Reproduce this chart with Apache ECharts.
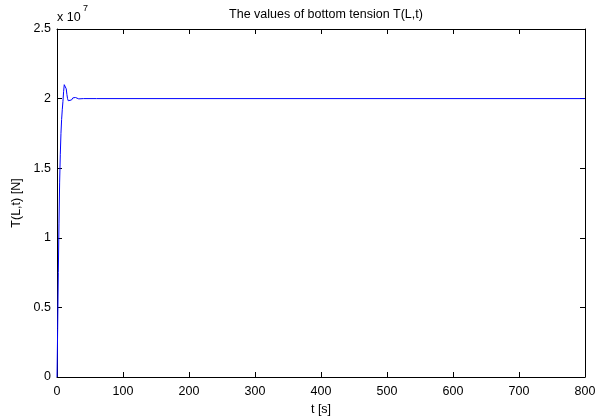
<!DOCTYPE html>
<html><head><meta charset="utf-8">
<script src="https://cdn.jsdelivr.net/npm/echarts@6/dist/echarts.min.js"></script>
<style>html,body{margin:0;padding:0;background:#fff}#c{width:606px;height:417px}</style>
</head><body><div id="c"></div>
<script>
// time [s]
var tValues = [0,1,2,3,4,5,6,7,8,9,10,11,12,13,14,15,16,17,18,19,20,22,24,26,28,30,33,36,40,60,100,200,400,600,800];
// bottom tension T(L,t) in units of 1e7 N
var tensionValues = [0,0.35,0.75,1.1,1.4,1.6,1.75,1.85,1.92,1.98,2.05,2.1,2.11,2.1,2.07,2.03,2.0,1.985,1.98,1.978,1.98,1.99,2.005,2.01,2.008,2.002,1.998,2.0,2.0,2.0,2.0,2.0,2.0,2.0,2.0];
var xTicks = [0,100,200,300,400,500,600,700,800];
var yTicks = [0,0.5,1,1.5,2,2.5];

var data = tValues.map(function(t,i){return [t, tensionValues[i]];});
var font = 'Liberation Sans, Arial, Helvetica, sans-serif';
var chart = echarts.init(document.getElementById('c'), null, {renderer:'canvas'});
var axisBase = {
  axisLine:{show:true,onZero:false,lineStyle:{color:'#000',width:1}},
  axisTick:{show:true,inside:true,length:5,lineStyle:{color:'#000'}},
  splitLine:{show:false}
};
chart.setOption({
  animation:false,
  backgroundColor:'#fff',
  title:{text:'The values of bottom tension T(L,t)',left:321,top:3,textAlign:'center',
    textStyle:{fontFamily:font,fontSize:12.5,fontWeight:'normal',color:'#000'}},
  grid:{left:57,right:21,top:29,bottom:40,containLabel:false,outerBoundsMode:'none'},
  xAxis:[
    Object.assign({type:'value',min:xTicks[0],max:xTicks[xTicks.length-1],interval:100,position:'bottom',
      name:'t [s]',nameLocation:'middle',nameGap:19,
      nameTextStyle:{fontFamily:font,fontSize:12.5,color:'#000'},
      axisLabel:{fontFamily:font,fontSize:12.5,color:'#000',margin:8}},axisBase),
    Object.assign({type:'value',min:0,max:800,interval:100,position:'top',axisLabel:{show:false}},axisBase)
  ],
  yAxis:[
    Object.assign({type:'value',min:yTicks[0],max:yTicks[yTicks.length-1],interval:0.5,position:'left',
      name:'T(L,t) [N]',nameLocation:'middle',nameGap:29,
      nameTextStyle:{fontFamily:font,fontSize:12.5,color:'#000'},
      axisLabel:{fontFamily:font,fontSize:12.5,color:'#000',margin:6}},axisBase),
    Object.assign({type:'value',min:0,max:2.5,interval:0.5,position:'right',axisLabel:{show:false}},axisBase)
  ],
  graphic:[
    {type:'text',left:57,top:11,style:{text:'x 10',fontFamily:font,fontSize:12.5,fill:'#000'}},
    {type:'text',left:83,top:4,style:{text:'7',fontFamily:font,fontSize:9,fill:'#000'}}
  ],
  series:[{type:'line',data:data,showSymbol:false,symbol:'none',smooth:false,
    lineStyle:{color:'#0000ff',width:1},xAxisIndex:0,yAxisIndex:0}]
});
</script></body></html>
